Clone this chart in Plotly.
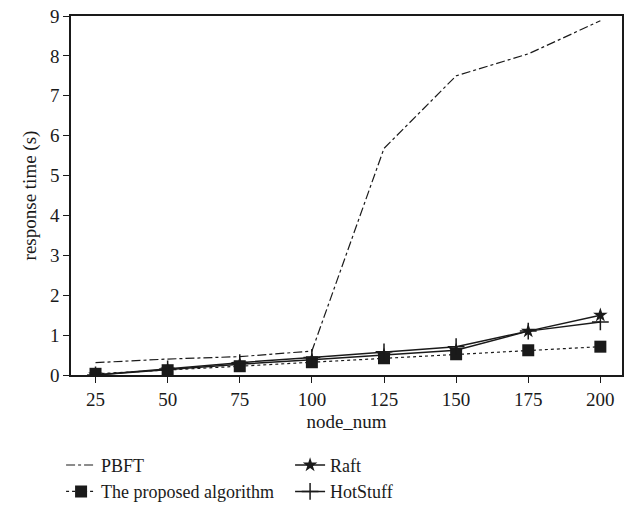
import plotly.graph_objects as go

node_num = [25, 50, 75, 100, 125, 150, 175, 200]
pbft = [0.31, 0.40, 0.46, 0.60, 5.68, 7.50, 8.05, 8.88]
proposed = [0.03, 0.12, 0.22, 0.32, 0.42, 0.52, 0.62, 0.71]
raft = [0.0, 0.13, 0.27, 0.38, 0.50, 0.62, 1.10, 1.50]
hotstuff = [0.0, 0.15, 0.31, 0.44, 0.58, 0.71, 1.10, 1.33]

x_ticks = [25, 50, 75, 100, 125, 150, 175, 200]
y_ticks = [0, 1, 2, 3, 4, 5, 6, 7, 8, 9]

C = "#1a1a1a"
FONT = "Liberation Serif"

fig = go.Figure()
fig.add_trace(go.Scatter(x=node_num, y=pbft, name="PBFT", mode="lines",
                         line=dict(color=C, width=1.2, dash="dashdot")))
fig.add_trace(go.Scatter(x=node_num, y=raft, name="Raft", mode="lines+markers",
                         line=dict(color=C, width=1.5),
                         marker=dict(symbol="star", size=11, color=C)))
fig.add_trace(go.Scatter(x=node_num, y=proposed, name="The proposed algorithm", mode="lines+markers",
                         line=dict(color=C, width=1.2, dash="dot"),
                         marker=dict(symbol="square", size=12, color=C)))
fig.add_trace(go.Scatter(x=node_num, y=hotstuff, name="HotStuff", mode="lines+markers",
                         line=dict(color=C, width=1.5),
                         marker=dict(symbol="cross-thin", size=12, color=C,
                                     line=dict(color=C, width=1.5))))

fig.update_layout(
    width=631, height=506,
    margin=dict(l=71, r=9, t=16, b=131, autoexpand=False),
    paper_bgcolor="white", plot_bgcolor="white",
    font=dict(family=FONT, size=18, color=C),
    showlegend=True,
    legend=dict(orientation="h", x=-0.018, y=-0.2, xanchor="left", yanchor="top",
                entrywidth=184, entrywidthmode="pixels", traceorder="normal",
                font=dict(family=FONT, size=18, color=C), itemwidth=30,
                tracegroupgap=0),
)
fig.update_xaxes(range=[16.5, 207.5], tickvals=x_ticks, ticks="outside", ticklen=6,
                 tickcolor=C, showline=True, linecolor=C, linewidth=1.5, mirror=True,
                 showgrid=False, zeroline=False, tickfont=dict(size=19),
                 title=dict(text="node_num", font=dict(family=FONT, size=19), standoff=6))
fig.update_yaxes(range=[0, 9], tickvals=y_ticks, ticks="outside", ticklen=6,
                 tickcolor=C, showline=True, linecolor=C, linewidth=1.5, mirror=True,
                 showgrid=False, zeroline=False, tickfont=dict(size=19),
                 title=dict(text="response time (s)", font=dict(family=FONT, size=19), standoff=8))

fig.write_html("out.html")
